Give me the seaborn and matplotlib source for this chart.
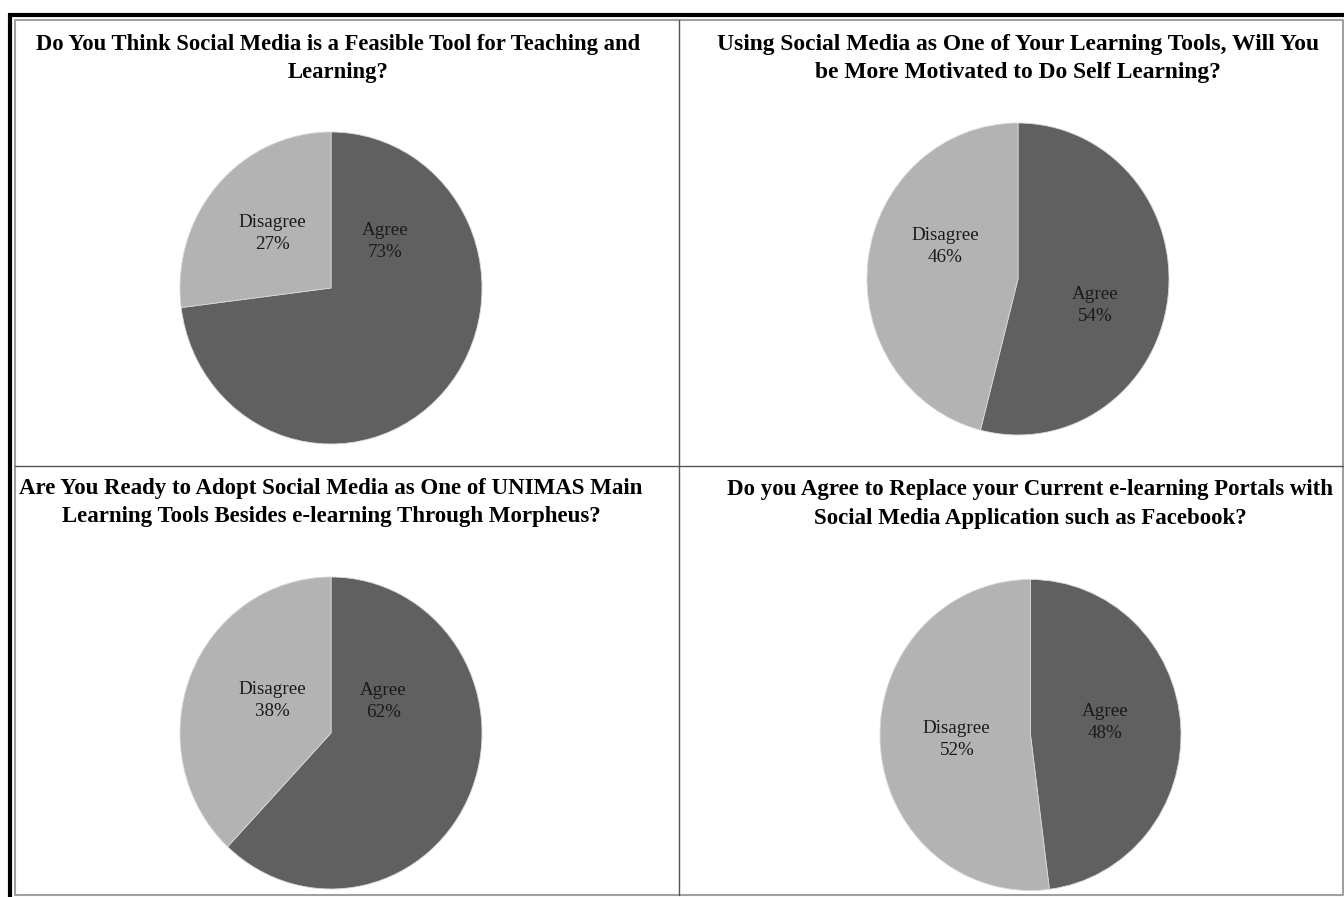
import matplotlib
matplotlib.use("Agg")
import matplotlib.pyplot as plt
import seaborn as sns
from matplotlib.lines import Line2D

sns.set_theme(style="white")
plt.rcParams['font.family'] = ['Liberation Serif', 'DejaVu Serif']

# ---- data ----
categories = ["Agree", "Disagree"]
titles = [
    "Do You Think Social Media is a Feasible Tool for Teaching and\nLearning?",
    "Using Social Media as One of Your Learning Tools, Will You\nbe More Motivated to Do Self Learning?",
    "Are You Ready to Adopt Social Media as One of UNIMAS Main\nLearning Tools Besides e-learning Through Morpheus?",
    "Do you Agree to Replace your Current e-learning Portals with\nSocial Media Application such as Facebook?",
]
agree_pct = [73, 54, 62, 48]
disagree_pct = [27, 46, 38, 52]

# ---- layout (pixels) ----
W, H = 1344, 897
colors = sns.color_palette(["#606060", "#b3b3b3"])
pie_centers = [(331, 288), (1018, 279), (331, 733), (1030.5, 735)]
pie_radii = [(151, 156), (151, 156), (151, 156), (150.5, 155.5)]
title_pos = [(338, 58.5), (1018, 58.5), (331, 502.5), (1030, 504)]
title_sizes = [16.3, 16.9, 16.5, 16.5]
label_offsets = [
    [(0.36, 0.30), (-0.39, 0.35)],
    [(0.51, -0.17), (-0.48, 0.21)],
    [(0.345, 0.20), (-0.39, 0.21)],
    [(0.495, 0.08), (-0.49, -0.03)],
]

fig = plt.figure(figsize=(W / 100, H / 100), dpi=100)
fig.patch.set_facecolor("white")

def fx(x):
    return x / W

def fy(y):
    return 1 - y / H

# frame lines
fig.add_artist(Line2D([fx(15), fx(1343), fx(1343), fx(15), fx(15)],
                      [fy(20), fy(20), fy(895), fy(895), fy(20)],
                      color="#a0a0a0", lw=1.5, transform=fig.transFigure))
fig.add_artist(Line2D([fx(679), fx(679)], [fy(20), fy(895)], color="#555555",
                      lw=1.0, transform=fig.transFigure))
fig.add_artist(Line2D([fx(15), fx(1343)], [fy(466), fy(466)], color="#555555",
                      lw=1.0, transform=fig.transFigure))
fig.add_artist(Line2D([fx(8), fx(1344)], [fy(15), fy(15)], color="black",
                      lw=3.0, transform=fig.transFigure, solid_capstyle="butt"))
fig.add_artist(Line2D([fx(10), fx(10)], [fy(14), fy(897)], color="black",
                      lw=3.0, transform=fig.transFigure, solid_capstyle="butt"))

for i in range(4):
    cx, cy = pie_centers[i]
    rx, ry = pie_radii[i]
    ax = fig.add_axes([fx(cx - rx), fy(cy + ry), 2 * rx / W, 2 * ry / H])
    vals = [agree_pct[i], disagree_pct[i]]
    ax.pie(vals, colors=colors, startangle=90, counterclock=False,
           wedgeprops=dict(edgecolor="#d8d8d8", linewidth=0.6))
    ax.set_aspect("auto")
    ax.set_xlim(-1, 1)
    ax.set_ylim(-1, 1)
    ax.axis("off")
    for j, cat in enumerate(categories):
        dx, dy = label_offsets[i][j]
        ax.text(dx, dy, f"{cat}\n{vals[j]}%", ha="center", va="center",
                fontsize=13.7, color="#1a1a1a", linespacing=1.38)
    tx, ty = title_pos[i]
    fig.text(fx(tx), fy(ty), titles[i], ha="center", va="center",
             fontsize=title_sizes[i], fontweight="bold", color="black",
             linespacing=1.45)

fig.savefig("out.png", dpi=100, facecolor="white")
